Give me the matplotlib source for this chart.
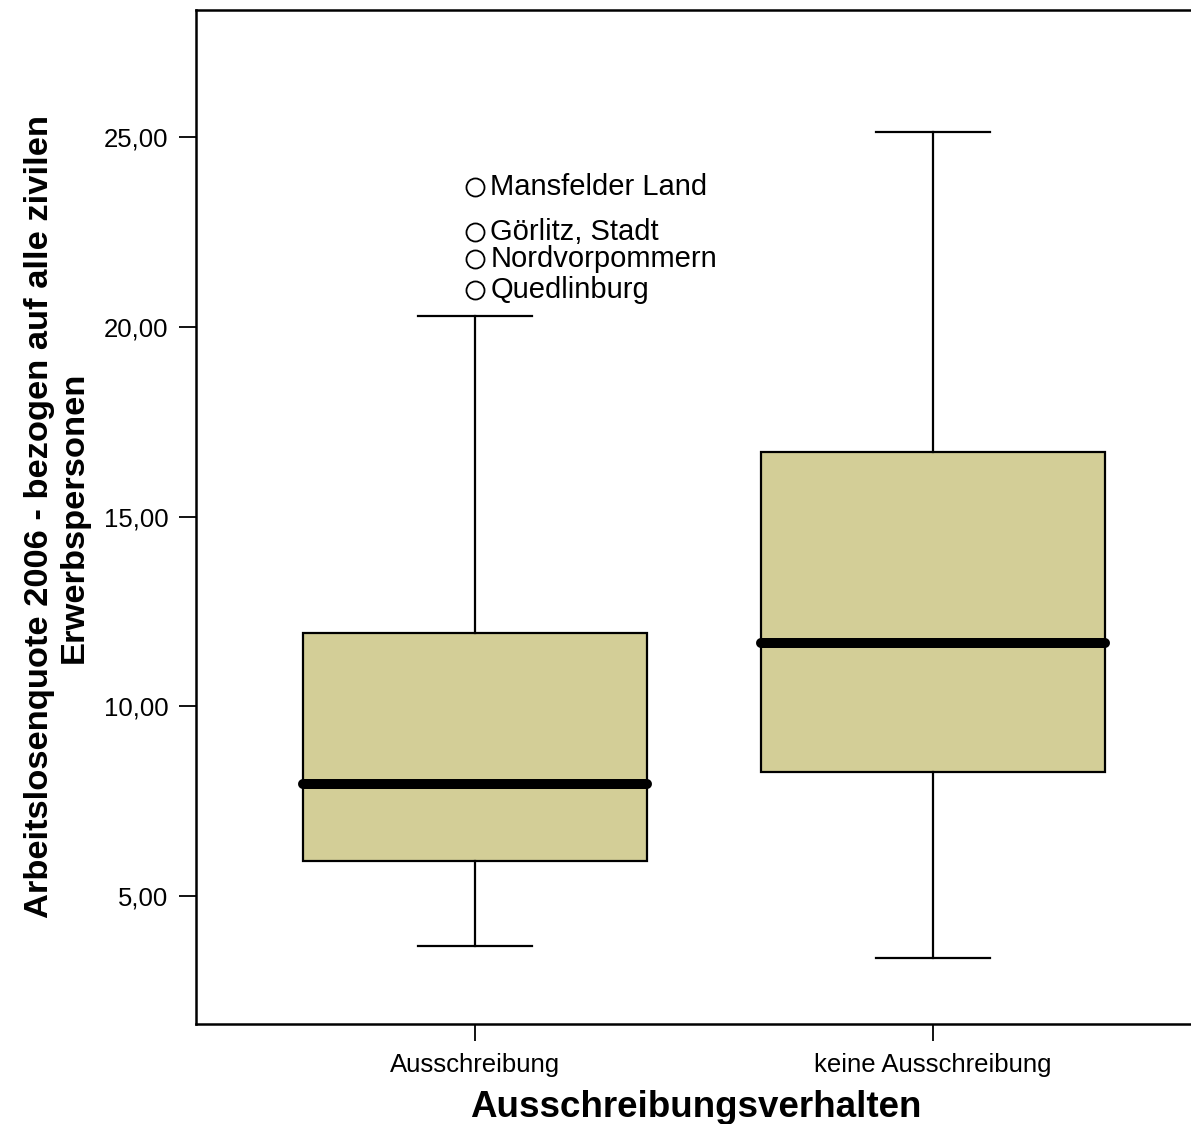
import matplotlib
matplotlib.use("Agg")
import matplotlib.pyplot as plt

plt.rcParams['font.family'] = ['Liberation Sans', 'DejaVu Sans']

categories = ["Ausschreibung", "keine Ausschreibung"]
whislo = [3.68, 3.37]
q1 = [5.92, 8.27]
median = [7.95, 11.66]
q3 = [11.93, 16.70]
whishi = [20.28, 25.13]
outlier_values = [[23.68, 22.49, 21.78, 20.96], []]
outlier_labels = [["Mansfelder Land", "Görlitz, Stadt", "Nordvorpommern", "Quedlinburg"], []]
yticks = [5, 10, 15, 20, 25]
yticklabels = ["5,00", "10,00", "15,00", "20,00", "25,00"]

W, H = 1191, 1124
fig = plt.figure(figsize=(W / 100, H / 100), dpi=100)
ax = fig.add_axes([196 / W, 100 / H, 1000 / W, 1014 / H])

stats = []
for i in range(len(categories)):
    stats.append(dict(whislo=whislo[i], q1=q1[i], med=median[i], q3=q3[i],
                      whishi=whishi[i], fliers=outlier_values[i], label=categories[i]))

positions = list(range(1, len(categories) + 1))
ax.bxp(stats, positions=positions, widths=0.751, capwidths=0.25, patch_artist=True,
       boxprops=dict(facecolor="#D3CE97", edgecolor="black", linewidth=1.6),
       whiskerprops=dict(color="black", linewidth=1.6),
       capprops=dict(color="black", linewidth=1.6),
       medianprops=dict(color="black", linewidth=7.2, solid_capstyle="round"),
       flierprops=dict(marker="o", markerfacecolor="none", markeredgecolor="black",
                       markersize=13, markeredgewidth=1.3))

for i, pos in enumerate(positions):
    for v, lab in zip(outlier_values[i], outlier_labels[i]):
        ax.annotate(lab, xy=(pos, v), xytext=(11, 0), textcoords="offset points",
                    ha="left", va="center", fontsize=21)

ax.set_xlim(0.391, 2.574)
ax.set_ylim(1.627, 28.35)
ax.set_yticks(yticks)
ax.set_yticklabels(yticklabels)
ax.set_xticks(positions)
ax.set_xticklabels(categories)
ax.tick_params(axis="both", direction="out", length=12, width=1.3, labelsize=18.5)
ax.tick_params(axis="y", pad=8)
ax.tick_params(axis="x", pad=9)
for s in ax.spines.values():
    s.set_linewidth(1.8)

ax.set_xlabel("Ausschreibungsverhalten", fontsize=26.5, fontweight="bold", labelpad=9)
ax.set_ylabel("Arbeitslosenquote 2006 - bezogen auf alle zivilen\nErwerbspersonen",
              fontsize=24.8, fontweight="bold", labelpad=10, linespacing=1.15)

fig.savefig("out.png", dpi=100)
